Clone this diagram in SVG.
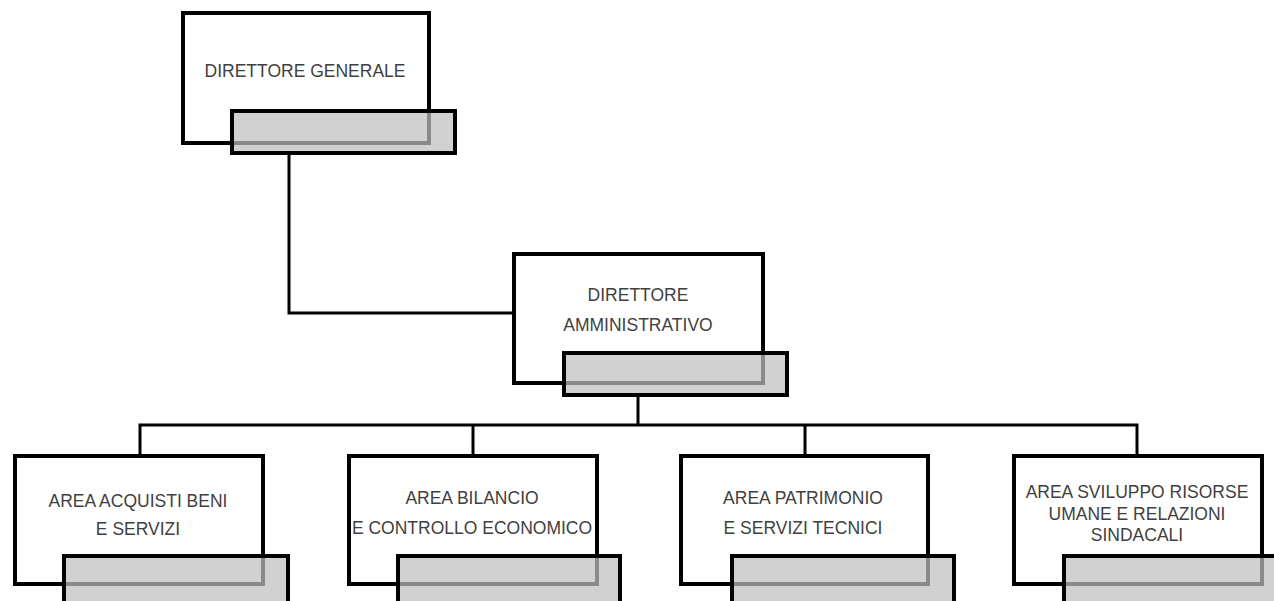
<svg xmlns="http://www.w3.org/2000/svg" width="1274" height="601" viewBox="0 0 1274 601">
<style>
.box{fill:#ffffff;stroke:#000000;stroke-width:4}
.tab{fill:#bfbfbf;fill-opacity:0.72;stroke:#000000;stroke-width:4}
.lbl{font-family:"Liberation Sans",Arial,sans-serif;font-size:17.5px;fill:#3f3f3f;text-anchor:middle}
.conn{fill:none;stroke:#000000;stroke-width:3}
</style>
<rect width="1274" height="601" fill="#ffffff"/>
<g id="connectors">
<polyline class="conn" points="289,153 289,313 514,313"/>
<line class="conn" x1="638" y1="395" x2="638" y2="425"/>
<polyline class="conn" points="140,456 140,425 1137,425 1137,456"/>
<line class="conn" x1="473" y1="425" x2="473" y2="456"/>
<line class="conn" x1="805" y1="425" x2="805" y2="456"/>
</g>
<g id="direttore-generale">
<rect class="box" x="183" y="13" width="246" height="130"/>
<text class="lbl" x="305" y="77">DIRETTORE GENERALE</text>
<rect class="tab" x="232" y="111" width="223" height="42"/>
</g>
<g id="direttore-amministrativo">
<rect class="box" x="514" y="254" width="249" height="129"/>
<text class="lbl" x="638" y="301">DIRETTORE</text>
<text class="lbl" x="638" y="331">AMMINISTRATIVO</text>
<rect class="tab" x="564" y="353" width="223" height="42"/>
</g>
<g id="area-acquisti">
<rect class="box" x="15" y="456" width="248" height="128"/>
<text class="lbl" x="138" y="507">AREA ACQUISTI BENI</text>
<text class="lbl" x="138" y="535">E SERVIZI</text>
<rect class="tab" x="64" y="556" width="224" height="50"/>
</g>
<g id="area-bilancio">
<rect class="box" x="349" y="456" width="248" height="128"/>
<text class="lbl" x="472" y="504">AREA BILANCIO</text>
<text class="lbl" x="472" y="534">E CONTROLLO ECONOMICO</text>
<rect class="tab" x="398" y="556" width="222" height="50"/>
</g>
<g id="area-patrimonio">
<rect class="box" x="681" y="456" width="247" height="128"/>
<text class="lbl" x="803" y="504">AREA PATRIMONIO</text>
<text class="lbl" x="803" y="534">E SERVIZI TECNICI</text>
<rect class="tab" x="732" y="556" width="222" height="50"/>
</g>
<g id="area-sviluppo">
<rect class="box" x="1014" y="456" width="248" height="128"/>
<text class="lbl" x="1137" y="498">AREA SVILUPPO RISORSE</text>
<text class="lbl" x="1137" y="520">UMANE E RELAZIONI</text>
<text class="lbl" x="1137" y="541">SINDACALI</text>
<rect class="tab" x="1064" y="556" width="224" height="50"/>
</g>
</svg>
